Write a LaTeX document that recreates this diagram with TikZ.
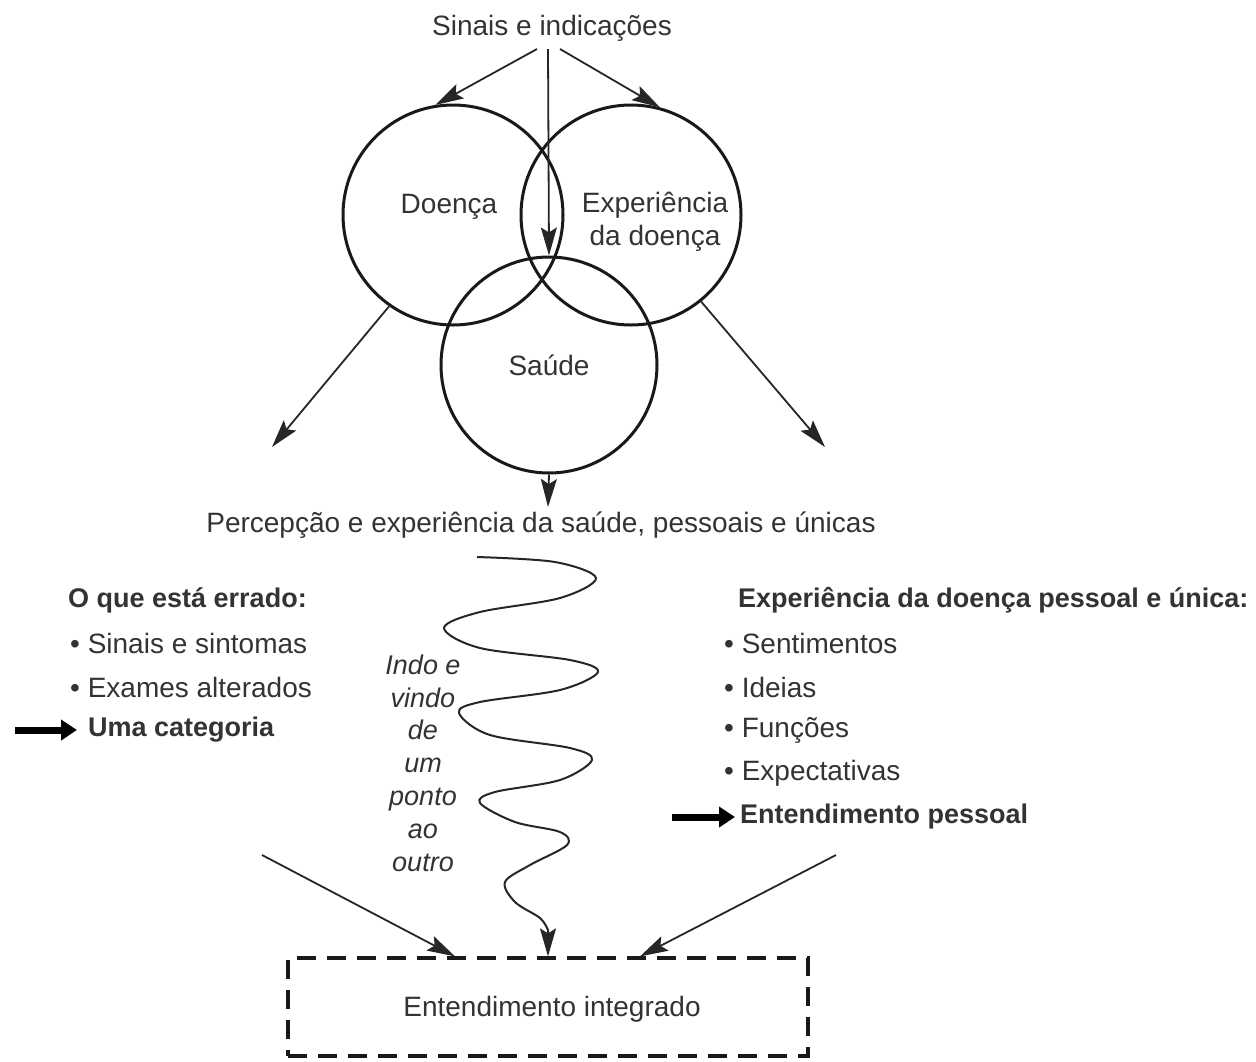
\documentclass[tikz,border=0pt]{standalone}
\usepackage{fontspec}
\setmainfont{Liberation Sans}
\usetikzlibrary{arrows.meta}
\begin{document}
\begin{tikzpicture}[x=1pt,y=-1pt,
  txt/.style={font=\fontsize{28}{33}\selectfont, text=black!80, inner sep=0pt},
  bld/.style={txt, font=\fontsize{27}{33}\selectfont\bfseries},
  ring/.style={circle, draw=black!90, line width=3pt, minimum size=220pt, inner sep=0pt},
  conn/.style={draw=black!85, line width=1.8pt, -{Stealth[length=28pt,width=16pt,inset=5pt]}},
  fatarrow/.style={draw=black, line width=7pt, -{Triangle[length=16pt,width=20pt]}},
  dashbox/.style={draw=black!90, line width=3.2pt, dash pattern=on 19pt off 11pt, minimum width=520pt, minimum height=98pt}
]
\useasboundingbox (0,0) rectangle (1256,1061);

% top label
\node[txt] (sinais) at (552,28) {Sinais e indicações};
\coordinate (s1) at (537,49);
\coordinate (s2) at (548,49);
\coordinate (s3) at (560,49);

% circles
\node[ring] (doenca) at (453,215) {};
\node[ring] (exper) at (631,215) {};
\node[ring, minimum size=216pt] (saude) at (549,365) {};
\node[txt] (tdoenca) at (449,207) {Doença};
\node[txt, align=center] (texper) at (655,222) {Experiência\\da doença};
\node[txt] (tsaude) at (549,365) {Saúde};

\draw[conn] (s1) -- (doenca.99);
\draw[conn] (s3) -- (exper.75);
\draw[conn] (s2) -- (saude.north);

\coordinate (lt) at (272,447);
\coordinate (rt) at (825,447);
\draw[conn] (doenca.235) -- (lt);
\draw[conn] (exper.-51) -- (rt);

\node[txt] (percep) at (541,525) {Percepção e experiência da saúde, pessoais e únicas};
\draw[conn] (saude.south) -- (548,507);

% left block
\node[bld, anchor=west] (lhead) at (68,600) {O que está errado:};
\node[txt, anchor=west] (l1) at (70,643) {• Sinais e sintomas};
\node[txt, anchor=west] (l2) at (70,687) {• Exames alterados};
\node[bld, anchor=west] (uma) at (88,730) {Uma categoria};
\coordinate (la) at (15,730);
\draw[fatarrow] (la) -- ([xshift=-11pt]uma.west);

% right block
\node[bld, anchor=west] (rhead) at (738,600) {Experiência da doença pessoal e única:};
\node[txt, anchor=west] (r1) at (724,643) {• Sentimentos};
\node[txt, anchor=west] (r2) at (724,687) {• Ideias};
\node[txt, anchor=west] (r3) at (724,730) {• Funções};
\node[txt, anchor=west] (r4) at (724,773) {• Expectativas};
\node[bld, anchor=west] (ent) at (740,817) {Entendimento pessoal};
\coordinate (ra) at (672,817);
\draw[fatarrow] (ra) -- ([xshift=-5pt]ent.west);

% italic middle text
\node[txt, font=\fontsize{27}{32.8}\selectfont\itshape, align=center] (indo) at (423,763)
  {Indo e\\vindo\\de\\um\\ponto\\ao\\outro};

% final box
\node[dashbox] (box) at (548,1007) {};
\node[txt] (tbox) at (552,1009) {Entendimento integrado};

% squiggle
\draw[conn, line width=2pt] plot[smooth, tension=0.55] coordinates {
  (477,557) (555,562) (596,578) (560,598) (480,612) (444,628) (480,648) (570,660) (598,672)
  (560,690) (480,702) (459,713) (490,735) (570,748) (592,760) (560,780) (495,792) (480,803)
  (515,822) (560,832) (567,845) (530,865) (505,882) (515,902) (540,918) (548,930)} -- (box.north);

% diagonal arrows into box
\coordinate (dl) at (262,855);
\coordinate (dr) at (836,855);
\draw[conn] (dl) -- (box.north -| 455,0);
\draw[conn] (dr) -- (box.north -| 640,0);
\end{tikzpicture}
\end{document}
